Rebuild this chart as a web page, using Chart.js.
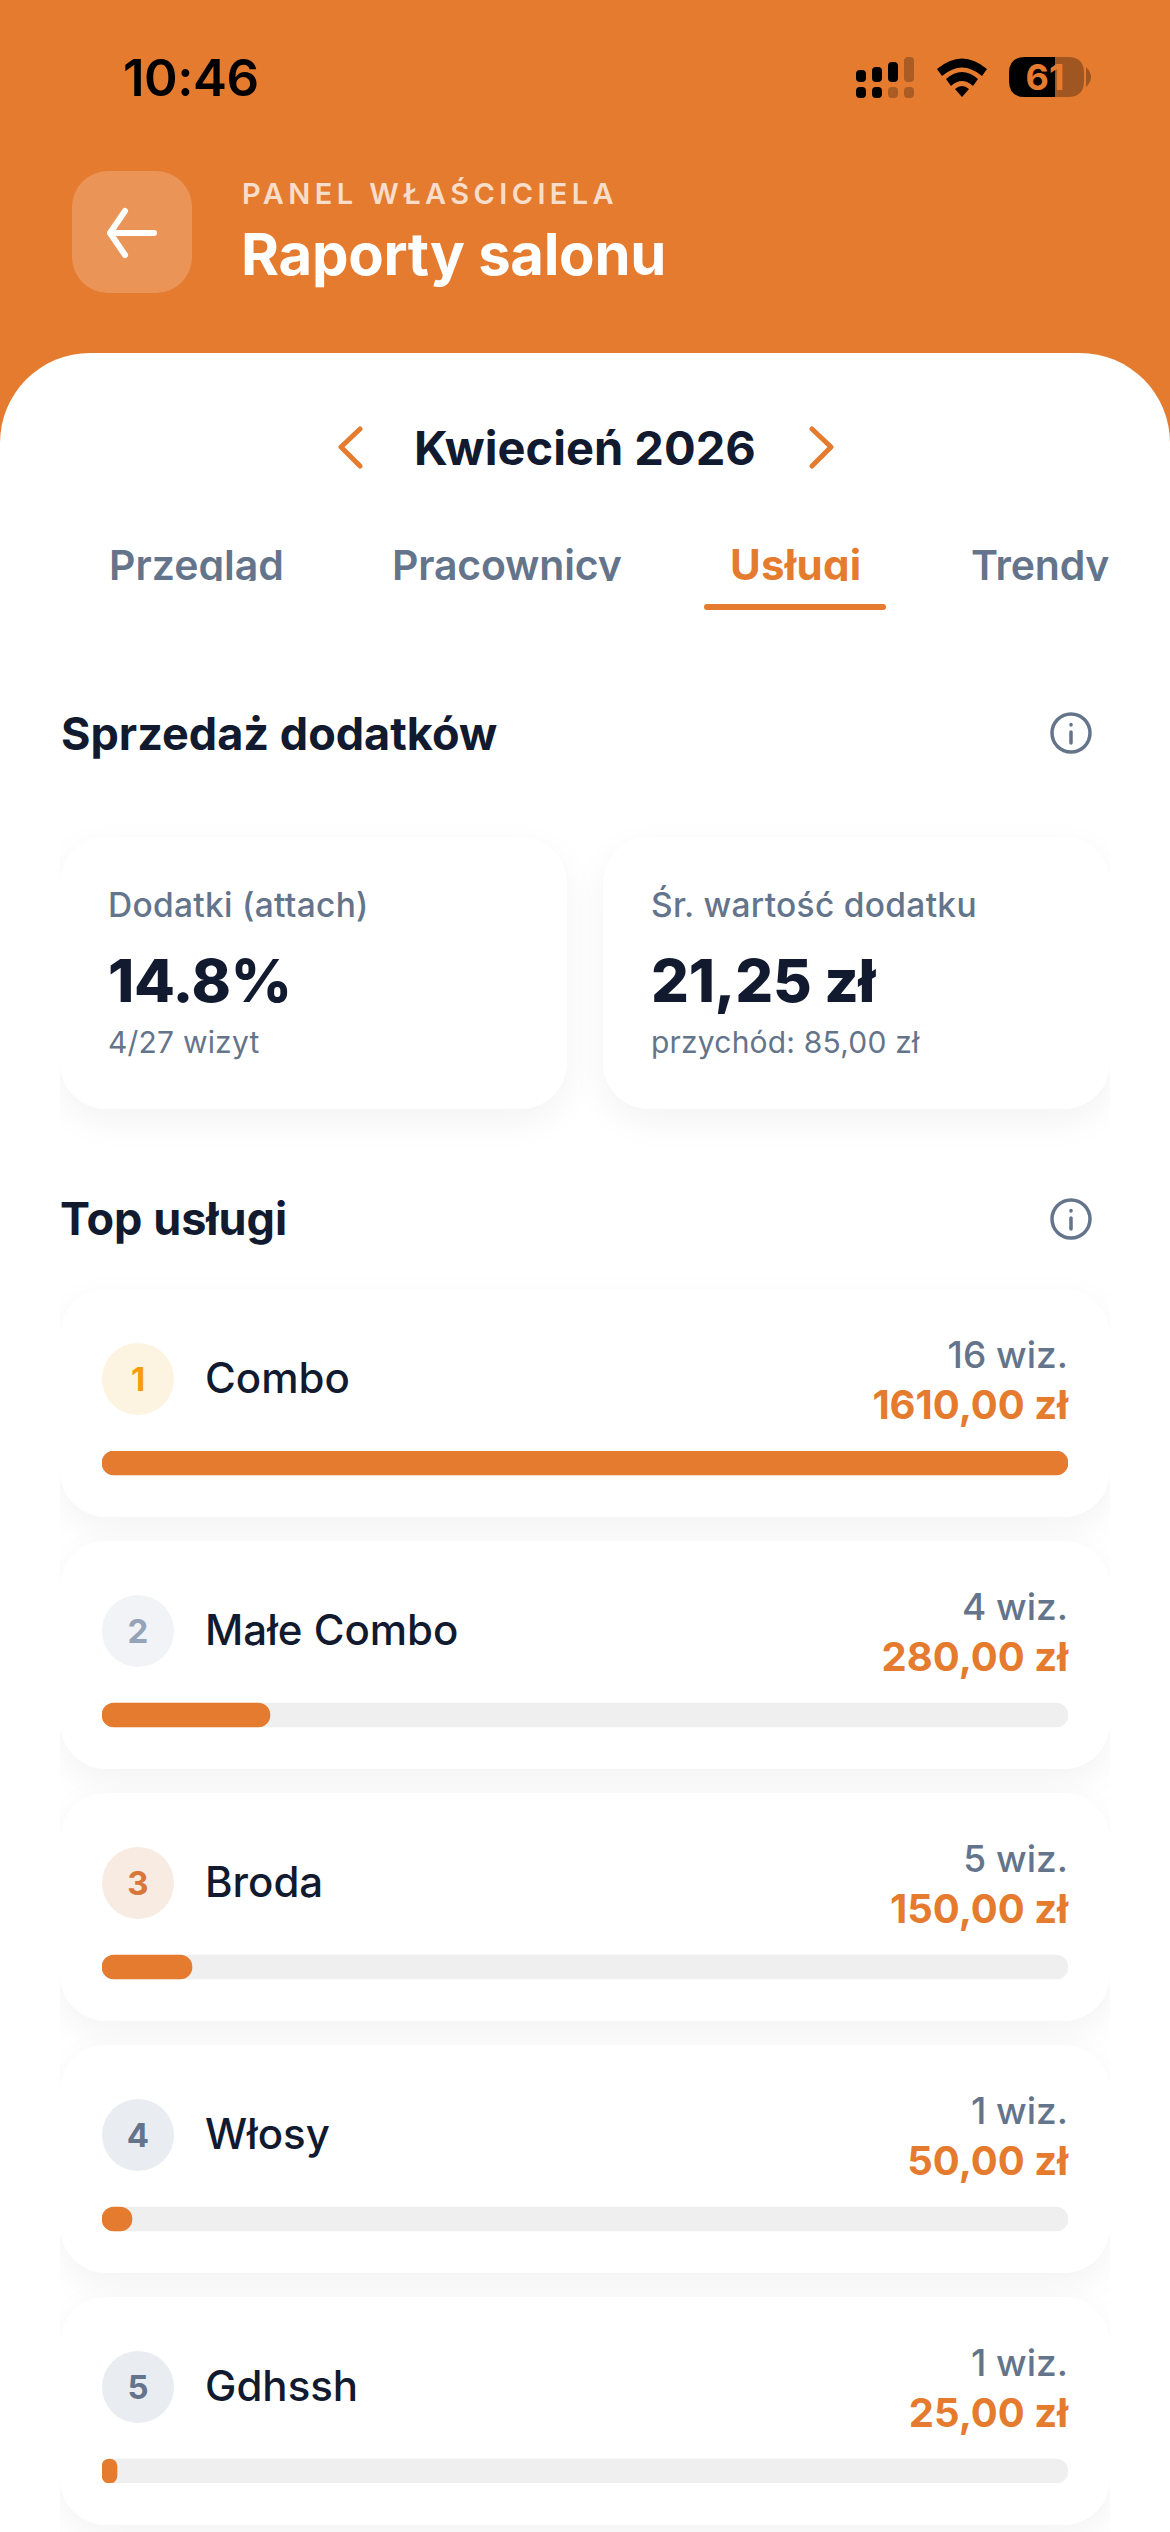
<!DOCTYPE html>
<html lang="pl">
<head>
<meta charset="utf-8">
<title>Raporty salonu</title>
<script src="https://cdn.jsdelivr.net/npm/chart.js@4"></script>
<style>
    html, body { margin: 0; padding: 0; }
    body {
        position: relative; width: 1170px; height: 2532px; overflow: hidden;
        background: #fff; font-family: Inter, sans-serif; color: #111a2e;
    }
    .abs { position: absolute; white-space: nowrap; line-height: 1; }
    .header { position: absolute; left: 0; top: 0; width: 1170px; height: 460px; background: #e57b2e; }
    .sheet {
        position: absolute; left: 0; top: 353px; width: 1170px; height: 300px;
        background: #fff; border-radius: 90px 90px 0 0;
    }
    .back { position: absolute; left: 72px; top: 171px; width: 120px; height: 122px; border-radius: 36px; background: rgba(255,255,255,.2); }
    .section { font-size: 45px; font-weight: 700; left: 61px; }
    .tabs { position: absolute; left: 60px; top: 520px; width: 1050px; height: 61px; overflow: hidden; }
    .tab { font-size: 41px; font-weight: 600; color: #64748b; top: 25px; }
    .tab.active { font-size: 42px; font-weight: 700; color: #e57b2e; top: 24px; letter-spacing: .3px; }
    .clip { position: absolute; left: 60px; top: 780px; width: 1050px; height: 1752px; overflow: hidden; }
    .card {
        position: absolute; background: #fff; border-radius: 46px;
        box-shadow: 0 12px 36px rgba(15,23,42,.05);
    }
    .stat-label { font-size: 33.5px; font-weight: 500; color: #64748b; letter-spacing: .3px; }
    .stat-value { font-size: 59.5px; font-weight: 800; letter-spacing: -.3px; }
    .stat-sub { font-size: 30px; font-weight: 400; color: #64748b; letter-spacing: .2px; }
    .badge {
        position: absolute; left: 42px; top: 54px; width: 72px; height: 72px; border-radius: 50%;
        font-size: 33px; font-weight: 700; line-height: 72px; text-align: center;
    }
    .name { font-size: 42px; font-weight: 500; left: 145px; }
    .visits { font-size: 37px; font-weight: 500; color: #64748b; right: 42px; }
    .money { font-size: 40px; font-weight: 700; color: #e57b2e; right: 42px; }
    #bars { position: absolute; left: 102px; top: 1451px; width: 966px; height: 1032px; }
</style>
</head>
<body>
<div class="header"></div>

<div class="abs" style="left:123px;top:52px;font-size:51px;font-weight:600;color:#000;letter-spacing:-.5px">10:46</div>
<svg class="abs" style="left:0;top:0" width="1170" height="120">
    <g fill="#000">
        <rect x="856" y="70" width="10" height="12" rx="4"/>
        <rect x="872" y="67" width="10" height="15" rx="4"/>
        <rect x="888" y="62" width="10" height="20" rx="4"/>
        <rect x="904" y="57" width="10" height="25" rx="4" opacity=".25"/>
        <rect x="856" y="87" width="10" height="11" rx="4"/>
        <rect x="872" y="87" width="10" height="11" rx="4"/>
        <rect x="888" y="87" width="10" height="11" rx="4" opacity=".25"/>
        <rect x="904" y="87" width="10" height="11" rx="4" opacity=".25"/>
        <path d="M937 69 Q962 48 987 69 L982 76 Q962 59 942 76 Z"/>
        <path d="M946 79 Q962 65 978 79 L973 86 Q962 76 951 86 Z"/>
        <path d="M955 89 Q962 83 969 89 L962 97 Z"/>
        <path d="M1055 57 H1025 Q1009 57 1009 73 V81 Q1009 97 1025 97 H1055 Z"/>
        <path d="M1055 57 H1068 Q1084 57 1084 73 V81 Q1084 97 1068 97 H1055 Z" opacity=".3"/>
        <path d="M1086 67 Q1091 72 1091 77 Q1091 82 1086 87 Z" opacity=".3"/>
    </g>
    <text x="1045" y="90" text-anchor="middle" font-family="Inter" font-weight="700" font-size="36" fill="#e57b2e">61</text>
</svg>

<div class="back"></div>
<svg class="abs" style="left:100px;top:200px" width="64" height="66" fill="none" stroke="#fff" stroke-width="6" stroke-linecap="round" stroke-linejoin="round">
    <path d="M25 11 L10 33 L25 55 M10 33 H54"/>
</svg>
<div class="abs" style="left:242px;top:179px;font-size:29px;font-weight:600;letter-spacing:4.4px;color:rgba(255,255,255,.75)">PANEL WŁAŚCICIELA</div>
<div class="abs" style="left:241px;top:225px;font-size:58px;font-weight:700;color:#fff;letter-spacing:-.3px">Raporty salonu</div>

<div class="sheet"></div>

<svg class="abs" style="left:330px;top:420px" width="510" height="56" fill="none" stroke="#e57b2e" stroke-width="5" stroke-linecap="round" stroke-linejoin="round">
    <path d="M30 9 L11 27 L30 46 M482 9 L501 27 L482 46" stroke-width="5"/>
</svg>
<div class="abs" style="left:414px;top:424px;font-size:47px;font-weight:700">Kwiecień 2026</div>

<div class="tabs">
    <div class="abs tab" style="left:49px">Przegląd</div>
    <div class="abs tab" style="left:332px;letter-spacing:-.2px">Pracownicy</div>
    <div class="abs tab active" style="left:670px">Usługi</div>
    <div class="abs tab" style="left:911px;letter-spacing:-.2px">Trendy</div>
</div>
<div class="abs" style="left:704px;top:604px;width:182px;height:6px;border-radius:3px;background:#e57b2e"></div>

<div class="abs section" style="top:711px">Sprzedaż dodatków</div>
<svg class="abs" style="left:1050px;top:712px" width="42" height="42" fill="none" stroke="#64748b" stroke-width="3.5" stroke-linecap="round">
    <circle cx="21" cy="21" r="19"/><path d="M21 20 V31 M21 12.5 V13"/>
</svg>
<div class="abs section" style="top:1196px;left:60px">Top usługi</div>
<svg class="abs" style="left:1050px;top:1198px" width="42" height="42" fill="none" stroke="#64748b" stroke-width="3.5" stroke-linecap="round">
    <circle cx="21" cy="21" r="19"/><path d="M21 20 V31 M21 12.5 V13"/>
</svg>

<div class="clip" id="clip"></div>
<canvas id="bars" width="966" height="1032"></canvas>

<script>
const services = ['Combo', 'Małe Combo', 'Broda', 'Włosy', 'Gdhssh'];
const visits = [16, 4, 5, 1, 1];
const revenue = [1610, 280, 150, 50, 25];
const track = [1610, 1610, 1610, 1610, 1610];
const moneyLabels = ['1610,00 zł', '280,00 zł', '150,00 zł', '50,00 zł', '25,00 zł'];
const badgeColors = ['#f59e0b', '#94a3b8', '#d9773b', '#64748b', '#64748b'];
const badgeBacks = ['#fdf3e1', '#f1f3f6', '#f7ebe2', '#e9ecf1', '#e9ecf1'];

const statLabels = ['Dodatki (attach)', 'Śr. wartość dodatku'];
const statValues = ['14.8%', '21,25 zł'];
const statSubs = ['4/27 wizyt', 'przychód: 85,00 zł'];

const clip = document.getElementById('clip');
const clipTop = 780;

statLabels.forEach((label, i) => {
    const card = document.createElement('div');
    card.className = 'card';
    card.style.cssText = `left:${i ? 543 : 0}px;top:${837 - clipTop}px;width:507px;height:272px`;
    card.innerHTML = `
        <div class="abs stat-label" style="left:48px;top:52px">${label}</div>
        <div class="abs stat-value" style="left:48px;top:114px">${statValues[i]}</div>
        <div class="abs stat-sub" style="left:48px;top:190px">${statSubs[i]}</div>`;
    clip.appendChild(card);
});

services.forEach((name, i) => {
    const card = document.createElement('div');
    card.className = 'card';
    card.style.cssText = `left:0;top:${1289 + i * 252 - clipTop}px;width:1050px;height:228px`;
    card.innerHTML = `
        <div class="badge" style="color:${badgeColors[i]};background:${badgeBacks[i]}">${i + 1}</div>
        <div class="abs name" style="top:68px">${name}</div>
        <div class="abs visits" style="top:47px">${visits[i]} wiz.</div>
        <div class="abs money" style="top:96px">${moneyLabels[i]}</div>`;
    clip.appendChild(card);
});

new Chart(document.getElementById('bars'), {
    type: 'bar',
    data: {
        labels: services,
        datasets: [
            { label: 'Przychód', data: revenue, backgroundColor: '#e57b2e' },
            { label: 'Tło', data: track, backgroundColor: '#efefef' },
        ],
    },
    options: {
        indexAxis: 'y',
        responsive: false,
        animation: false,
        layout: { padding: { top: 12, bottom: 12 } },
        datasets: {
            bar: { grouped: false, barThickness: 24, borderRadius: 12, borderSkipped: false, clip: false },
        },
        plugins: { legend: { display: false }, tooltip: { enabled: false } },
        scales: {
            x: { display: false, min: 0, max: 1610 },
            y: { display: false, offset: false },
        },
    },
});
</script>
</body>
</html>
